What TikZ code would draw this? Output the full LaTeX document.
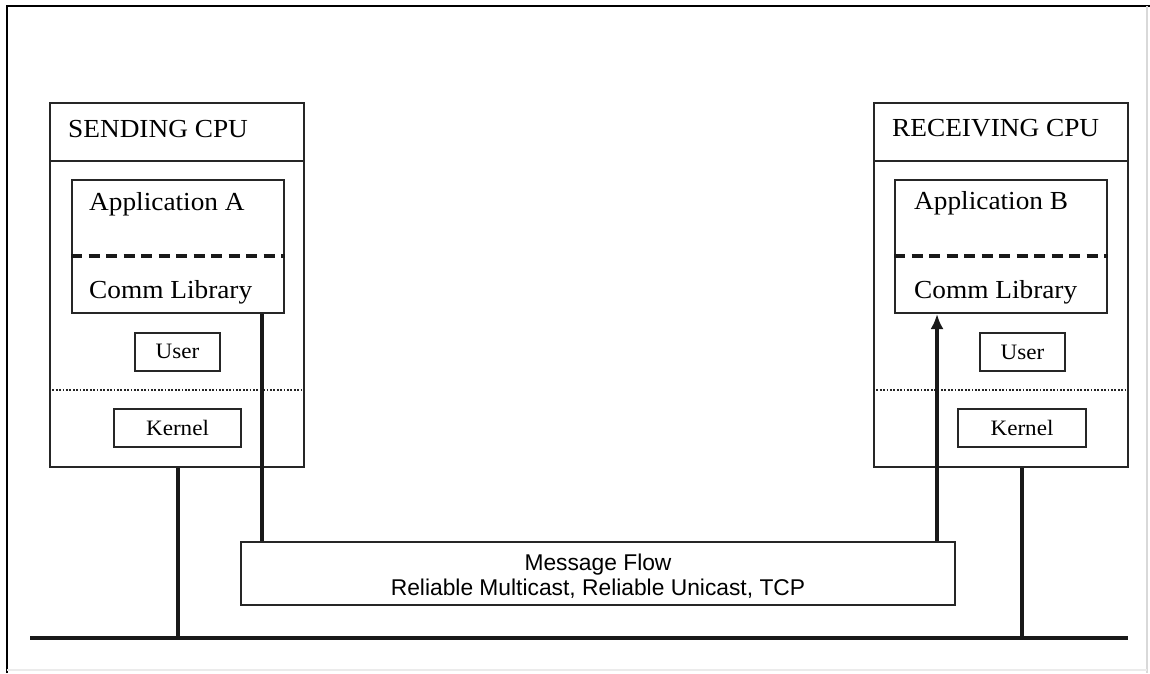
\documentclass[tikz,border=0pt]{standalone}
\usepackage{fontspec}
\setmainfont[FakeStretch=1.05]{Liberation Serif}
\newfontfamily\msgfont{Liberation Sans}
\usetikzlibrary{arrows.meta}
\tikzset{
  cpubox/.style={draw=black!85, line width=2pt, minimum width=254pt, minimum height=364pt, inner sep=0pt},
  appbox/.style={draw=black!85, line width=2pt, minimum width=212pt, minimum height=133pt, inner sep=0pt},
  smallbox/.style={draw=black!85, line width=2pt, minimum height=38pt, inner sep=0pt, font=\fontsize{22}{26}\selectfont},
  bigtext/.style={inner sep=0pt, font=\fontsize{26}{30}\selectfont, anchor=base west},
  msgbox/.style={draw=black!85, line width=1.6pt, minimum width=714pt, minimum height=63pt, inner sep=0pt, align=center, font=\msgfont\fontsize{22.8}{25}\selectfont},
  wire/.style={draw=black!90, line width=3.2pt},
  sep/.style={draw=black!85, line width=2pt},
  dashsep/.style={draw=black!90, line width=3.4pt, dash pattern=on 11pt off 6.5pt},
  dotsep/.style={draw=black!85, line width=2.4pt, dash pattern=on 1.8pt off 1.6pt}
}
\begin{document}
\begin{tikzpicture}[x=1pt, y=-1pt]
\useasboundingbox (0,0) rectangle (1150,673);
% frame
\draw[black, line width=1.8pt] (7,673) -- (7,6) -- (1150,6);
\draw[black!15, line width=1.5pt] (1147,6) -- (1147,673);
\draw[black!8, line width=1.5pt] (7,670) -- (1147,670);

% sending CPU
\node[cpubox] (cpuA) at (177,284.5) {};
\draw[sep] (cpuA.west |- 0,161) coordinate (hA1) -- (cpuA.east |- hA1);
\node[bigtext] (tA) at (68,137) {SENDING CPU};
\node[appbox] (appA) at (178,246.5) {};
\draw[dashsep] (appA.west |- 0,256) coordinate (dA1) -- (appA.east |- dA1);
\node[bigtext] (appAt) at (89,210) {Application A};
\node[bigtext] (libAt) at (89,298) {Comm Library};
\node[smallbox, minimum width=85pt] (userA) at (177.5,351.5) {User};
\draw[dotsep] (cpuA.west |- 0,390) coordinate (oA1) -- (cpuA.east |- oA1);
\node[smallbox, minimum width=127pt] (kernA) at (177.5,428) {Kernel};

% receiving CPU
\node[cpubox] (cpuB) at (1001,285) {};
\draw[sep] (cpuB.west |- 0,161) coordinate (hB1) -- (cpuB.east |- hB1);
\node[bigtext] (tB) at (892,136) {RECEIVING CPU};
\node[appbox] (appB) at (1001,246.5) {};
\draw[dashsep] (appB.west |- 0,256) coordinate (dB1) -- (appB.east |- dB1);
\node[bigtext] (appBt) at (914,209) {Application B};
\node[bigtext] (libBt) at (914,298) {Comm Library};
\node[smallbox, minimum width=85pt] (userB) at (1022.5,352) {User};
\draw[dotsep] (cpuB.west |- 0,390) coordinate (oB1) -- (cpuB.east |- oB1);
\node[smallbox, minimum width=128pt] (kernB) at (1022,428) {Kernel};

% message flow
\node[msgbox] (msg) at (598,573.5) {};
\node[inner sep=0pt, align=center, font=\msgfont\fontsize{22.8}{25}\selectfont] (msgt) at (598,576) {Message Flow\\Reliable Multicast, Reliable Unicast, TCP};

% network bus
\coordinate (busL) at (30,638);
\coordinate (busR) at (1128,638);
\draw[wire] (busL) -- (busR);

% connectors
\coordinate (xA) at (262,0);
\coordinate (xB) at (937,0);
\coordinate (dropA) at (178,638);
\coordinate (dropB) at (1022,638);
\draw[wire] (appA.south -| xA) -- (msg.north -| xA);
\draw[wire, -{Latex[length=15pt,width=13pt]}] (msg.north -| xB) -- (appB.south -| xB);
\draw[wire] (cpuA.south -| dropA) -- (dropA);
\draw[wire] (cpuB.south -| dropB) -- (dropB);
\end{tikzpicture}
\end{document}
